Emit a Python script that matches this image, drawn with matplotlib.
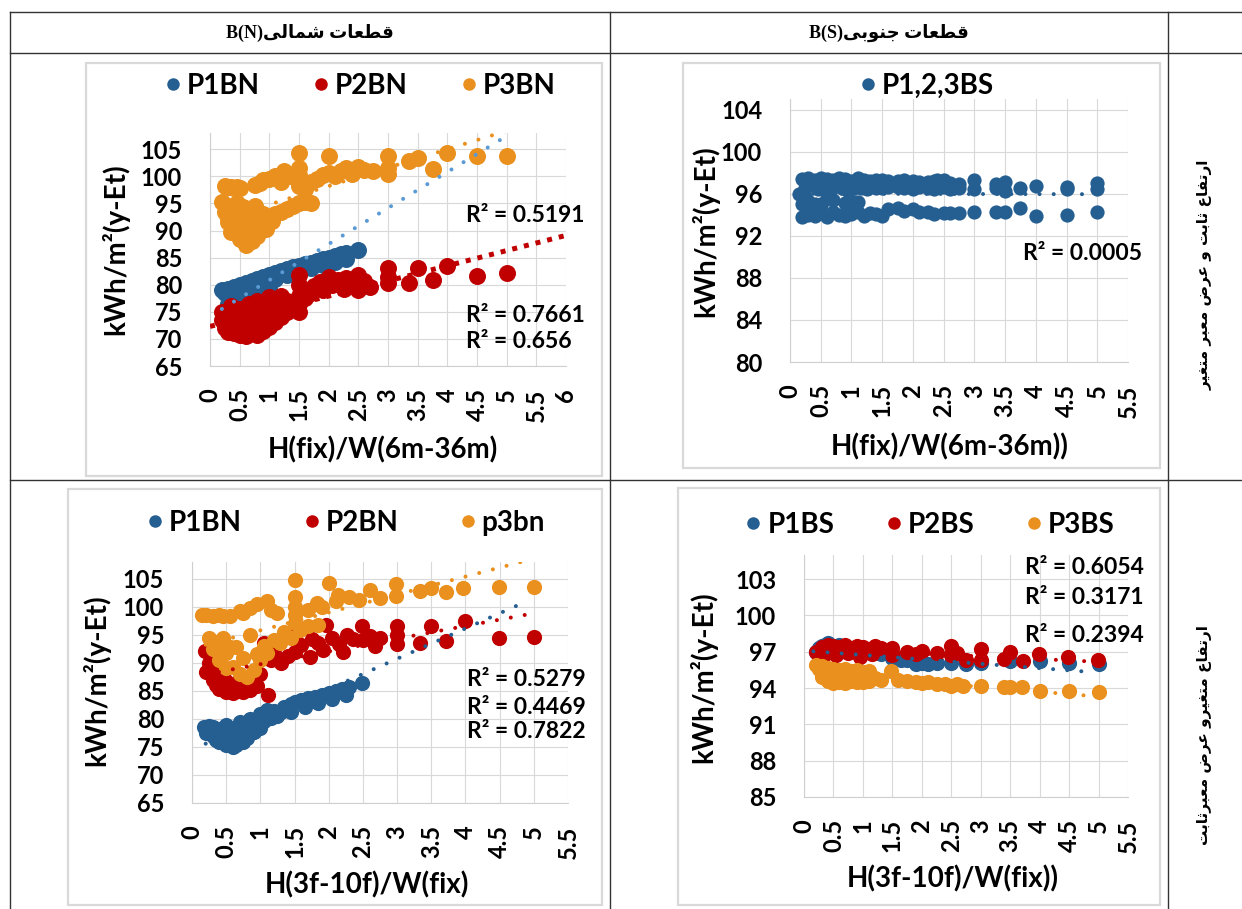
import numpy as np
import matplotlib
matplotlib.use('Agg')
import matplotlib.pyplot as plt
from matplotlib.lines import Line2D
from matplotlib.patches import Rectangle

plt.rcParams['font.family'] = ['Lato', 'DejaVu Sans']

BLUE = '#255E91'
RED = '#C00000'
ORANGE = '#E9901E'
GRID = '#D9D9D9'

# --- chart 1: north blocks, fixed height, variable street width ---
n1_p1_x = [0.2, 0.25, 0.3, 0.35, 0.4, 0.45, 0.5, 0.55, 0.6, 0.65, 0.7, 0.75, 0.8, 0.85, 0.9, 0.95, 1.0, 1.1, 1.2, 1.3,
           1.4, 1.5, 1.6, 1.7, 1.8, 1.9, 2.0, 2.1, 2.2, 2.3, 2.5, 0.3, 0.4, 0.5, 0.6, 0.7, 0.8, 0.9, 1.0,
           1.1, 1.3, 1.5, 1.7, 1.9, 2.1, 2.3]
n1_p1_y = [79.0, 78.4, 79.3, 78.6, 79.5, 79.0, 79.9, 79.4, 80.3, 79.8, 80.7, 80.5, 81.1, 81.0, 81.5, 81.4, 81.8, 82.2, 82.6, 82.9,
           83.2, 83.5, 83.8, 84.1, 84.4, 84.7, 85.0, 85.3, 85.6, 85.9, 86.4, 76.5, 75.8, 76.8, 77.2, 77.8, 78.0, 78.8, 79.5,
           81.0, 81.8, 82.4, 83.0, 83.6, 84.2, 84.8]
n1_p2_x = [0.2, 0.2, 0.25, 0.3, 0.3, 0.35, 0.4, 0.4, 0.45, 0.5, 0.5, 0.5, 0.55, 0.6, 0.6, 0.65, 0.7, 0.7, 0.75, 0.8,
           0.8, 0.8, 0.85, 0.9, 0.9, 0.95, 1.0, 1.0, 1.0, 1.05, 1.1, 1.1, 1.15, 1.2, 1.2, 1.25, 1.3, 1.3,
           1.5, 1.5, 1.5, 1.5, 1.5, 1.6, 1.7, 1.75, 1.85, 1.9, 2.0, 2.05, 2.15, 2.25, 2.3, 2.4, 2.5, 2.5, 2.6, 2.7,
           3.0, 3.0, 3.0, 3.35, 3.5, 3.75, 4.0, 4.5, 5.0]
n1_p2_y = [75.0, 73.5, 72.0, 71.3, 74.5, 76.0, 72.5, 71.0, 74.0, 70.8, 73.0, 75.5, 72.0, 70.6, 74.0, 76.5, 71.2, 73.0, 75.0, 70.7,
           72.5, 77.0, 74.0, 71.5, 76.0, 73.0, 72.2, 75.0, 77.8, 74.0, 73.2, 76.5, 75.0, 74.0, 78.0, 76.0, 77.0, 75.0,
           81.8, 80.0, 78.0, 76.5, 75.0, 77.5, 78.5, 79.8, 80.5, 79.0, 81.5, 80.0, 80.8, 79.3, 81.2, 80.2, 81.8, 79.0, 80.7, 79.5,
           83.0, 81.5, 80.3, 80.4, 83.1, 80.9, 83.4, 81.6, 82.1]
n1_p3_x = [0.25, 0.3, 0.35, 0.4, 0.45, 0.5, 0.75, 0.85, 0.9, 1.0, 1.1, 1.2, 1.25, 1.35, 1.5, 1.5, 1.5, 1.5, 1.5, 1.6,
           1.7, 1.8, 1.9, 2.0, 2.0, 2.1, 2.2, 2.3, 2.4, 2.5, 2.6, 2.75, 3.0, 3.0, 3.0, 3.35, 3.5, 3.75, 4.0, 4.5, 5.0,
           0.2, 0.25, 0.3, 0.3, 0.35, 0.4, 0.45, 0.5, 0.5, 0.55, 0.6, 0.6, 0.65, 0.7, 0.75, 0.8, 0.85, 0.9, 0.95, 1.0,
           1.05, 1.1, 1.2, 1.3, 1.4, 1.5, 1.6, 1.7]
n1_p3_y = [98.2, 98.0, 98.1, 97.9, 98.0, 97.9, 98.4, 98.8, 99.3, 99.6, 100.0, 99.0, 101.0, 100.0, 104.3, 101.5, 100.3, 99.2, 98.2, 97.7,
           99.0, 99.6, 100.2, 103.8, 100.6, 100.0, 101.0, 101.5, 100.4, 101.8, 101.2, 101.0, 103.8, 101.5, 100.4, 102.9, 103.4, 101.3, 104.3, 103.8, 103.7,
           95.2, 93.5, 91.5, 94.5, 89.8, 93.0, 95.0, 88.5, 91.5, 94.3, 87.3, 90.5, 92.5, 88.0, 94.5, 89.0, 91.5, 93.0, 90.2, 92.5,
           91.8, 93.0, 93.5, 94.0, 94.5, 95.0, 95.3, 95.0]
n1_r2 = ['R² = 0.5191', 'R² = 0.7661', 'R² = 0.656']
# trend: x start, x end, slope, intercept
n1_trend = [(0.2, 5.0, 6.65, 74.2), (0.0, 6.0, 2.8, 72.3), (0.2, 5.0, 3.4, 91.4)]

# --- chart 2: south blocks, fixed height ---
s1_x = [0.2, 0.3, 0.4, 0.5, 0.6, 0.7, 0.8, 0.9, 1.0, 1.1, 1.2, 1.3, 1.4, 1.5, 1.6, 1.75, 1.85, 2.0, 2.1, 2.25, 2.35,
        2.4, 2.5, 2.6, 2.75, 3.0, 3.35, 3.5, 3.75, 4.0, 4.5, 5.0,
        0.15, 0.25, 0.35, 0.45, 0.55, 0.65, 0.75, 0.85, 0.95, 1.05, 1.15, 1.25, 1.4, 1.5, 1.6, 1.75, 1.85, 2.0,
        2.1, 2.25, 2.35, 2.5, 2.6, 2.75, 3.0, 3.35, 3.5, 4.5, 5.0,
        0.2, 0.3, 0.4, 0.5, 0.6, 0.7, 0.8, 0.9, 1.0, 1.1, 1.2, 1.3, 1.4, 1.5, 1.6, 1.75, 1.85, 2.0, 2.1, 2.25,
        2.35, 2.5, 2.6, 2.75, 3.0, 3.35, 3.5, 3.75, 4.0, 4.5, 5.0,
        0.3, 0.5, 0.7, 0.9, 1.1, 0.25, 0.6, 1.0, 0.2, 0.3, 0.4, 0.5]
s1_y = [97.4, 97.5, 97.3, 97.5, 97.4, 97.3, 97.5, 97.4, 97.2, 97.5, 97.3, 97.2, 97.3, 97.3, 97.2, 97.2, 97.3, 97.2, 97.1, 97.1, 97.2,
        97.3, 97.3, 97.0, 96.9, 97.3, 96.9, 97.1, 96.5, 96.7, 96.6, 97.0,
        96.0, 96.5, 96.8, 96.4, 96.6, 96.3, 96.7, 96.5, 96.3, 96.6, 96.5, 96.4, 96.5, 96.5, 96.6, 96.6, 96.5, 96.4,
        96.6, 96.5, 96.4, 96.6, 96.4, 96.5, 96.4, 96.5, 96.3, 96.4, 96.4,
        93.8, 94.0, 93.9, 94.2, 93.8, 94.3, 94.0, 93.9, 94.1, 94.3, 93.9, 94.2, 94.1, 93.9, 94.5, 94.6, 94.4, 94.5, 94.3, 94.3,
        94.1, 94.2, 94.2, 94.2, 94.3, 94.3, 94.3, 94.6, 93.9, 94.0, 94.3,
        95.3, 95.0, 95.4, 95.1, 95.2, 95.8, 95.6, 95.3, 95.0, 94.8, 95.0, 94.9]
s1_r2 = ['R² = 0.0005']
s1_trend = [(0.15, 5.0, -0.01, 96.0)]

# --- chart 3: north blocks, variable height, fixed width ---
n2_p1_x = [0.17, 0.2, 0.25, 0.3, 0.3, 0.35, 0.4, 0.4, 0.45, 0.5, 0.5, 0.55, 0.6, 0.6, 0.65, 0.7, 0.7, 0.75, 0.8, 0.8,
           0.85, 0.9, 0.95, 1.0, 1.0, 1.05, 1.1, 1.15, 1.2, 1.3, 1.35, 1.45, 1.5, 1.6, 1.7, 1.8, 1.9, 2.0, 2.1, 2.2,
           2.3, 2.48, 1.25, 1.45, 1.65, 1.85, 2.05, 2.25]
n2_p1_y = [78.5, 77.5, 78.8, 77.0, 78.6, 76.2, 78.2, 75.8, 77.3, 75.3, 79.0, 76.6, 75.0, 78.0, 75.4, 77.0, 79.5, 75.8, 78.4, 76.6,
           80.0, 77.6, 79.0, 80.8, 78.4, 79.6, 81.6, 80.2, 81.5, 81.2, 82.2, 82.6, 83.0, 83.3, 83.7, 84.0, 84.3, 84.7, 85.0, 85.3,
           85.7, 86.4, 80.5, 81.3, 82.2, 82.9, 83.6, 84.3]
n2_p2_x = [0.19, 0.21, 0.25, 0.3, 0.3, 0.35, 0.4, 0.4, 0.45, 0.5, 0.5, 0.55, 0.6, 0.65, 0.7, 0.75, 0.8, 0.85, 0.9, 0.95,
           1.0, 1.05, 1.11, 1.15, 1.2, 1.3, 1.4, 1.5, 1.5, 1.5, 1.6, 1.72, 1.75, 1.85, 1.92, 1.96, 2.05, 2.15, 2.21, 2.26,
           2.35, 2.48, 2.5, 2.6, 2.67, 2.75, 3.0, 3.0, 3.0, 3.33, 3.5, 3.72, 3.99, 4.49, 5.0]
n2_p2_y = [92.2, 88.3, 90.0, 87.0, 89.2, 86.0, 88.5, 85.3, 87.5, 84.8, 86.8, 85.6, 84.6, 86.5, 85.0, 84.8, 86.2, 85.2, 87.0, 85.8,
           88.0, 93.5, 84.3, 90.5, 91.8, 90.0, 91.3, 92.0, 94.5, 96.3, 93.2, 91.1, 94.3, 93.5, 92.3, 96.8, 94.5, 93.4, 92.0, 95.0,
           94.2, 96.6, 94.0, 94.8, 93.1, 94.4, 96.5, 94.9, 93.3, 93.6, 96.6, 93.9, 97.4, 94.4, 94.7]
n2_p3_x = [0.15, 0.2, 0.3, 0.4, 0.45, 0.55, 0.7, 0.75, 0.85, 0.95, 1.09, 1.15, 1.24, 1.5, 1.5, 1.5, 1.5, 1.5, 1.7, 1.83,
           1.9, 2.0, 2.1, 2.13, 2.3, 2.45, 2.6, 2.75, 2.99, 2.99, 3.33, 3.5, 3.72, 3.96, 4.49, 5.0,
           0.25, 0.3, 0.35, 0.4, 0.45, 0.5, 0.5, 0.55, 0.6, 0.65, 0.7, 0.75, 0.8, 0.85, 0.9, 0.95, 1.0, 1.05, 1.1, 1.2,
           1.28, 1.35, 1.45, 1.58, 1.7, 1.85]
n2_p3_y = [98.6, 98.5, 98.4, 98.5, 98.3, 98.3, 99.2, 98.9, 99.8, 100.5, 101.0, 99.5, 98.9, 104.8, 101.8, 100.0, 98.5, 97.1, 99.5, 100.6,
           100.0, 104.2, 101.0, 102.1, 101.8, 101.3, 103.0, 101.5, 104.0, 101.9, 102.9, 103.3, 102.7, 103.4, 103.6, 103.6,
           94.4, 92.5, 93.8, 90.5, 94.4, 91.7, 89.0, 92.8, 89.3, 92.9, 88.0, 90.8, 87.5, 95.0, 88.8, 91.5, 90.5, 93.0, 91.7, 94.0,
           93.5, 95.5, 94.5, 95.9, 96.5, 96.8]
n2_r2 = ['R² = 0.5279', 'R² = 0.4469', 'R² = 0.7822']
n2_trend = [(0.2, 4.9, 5.41, 74.5), (0.19, 4.9, 2.27, 87.5), (0.2, 4.9, 3.2, 92.6)]

# --- chart 4: south blocks, variable height, fixed width ---
s2_p1_x = [0.2, 0.25, 0.3, 0.35, 0.4, 0.5, 0.6, 0.7, 0.8, 0.9, 1.0, 1.1, 1.2, 1.3, 1.5, 1.65, 1.75, 1.9, 2.0, 2.1,
           2.25, 2.5, 2.75, 3.0, 3.5, 4.0, 4.5, 5.0]
s2_p1_y = [97.0, 97.3, 97.5, 97.6, 97.7, 97.5, 97.6, 97.4, 97.3, 97.2, 97.1, 97.0, 96.9, 96.8, 96.5, 96.3, 96.3, 96.0, 96.1, 96.0,
           96.1, 96.1, 96.0, 96.1, 96.2, 96.2, 96.1, 96.0]
s2_p2_x = [0.2, 0.3, 0.4, 0.5, 0.6, 0.7, 0.8, 0.9, 1.0, 1.1, 1.2, 1.3, 0.35, 0.55, 0.75, 0.95, 1.15, 1.5, 1.5, 1.75,
           1.9, 2.0, 2.25, 2.5, 2.5, 2.6, 2.75, 3.0, 3.0, 3.4, 3.5, 3.72, 3.99, 4.48, 4.99]
s2_p2_y = [97.0, 97.4, 97.6, 97.5, 97.4, 97.6, 97.3, 97.5, 97.4, 97.2, 97.5, 97.3, 96.8, 96.7, 96.9, 96.6, 96.8, 97.3, 96.7, 97.0,
           96.8, 97.1, 96.9, 97.5, 96.7, 96.9, 96.3, 97.2, 96.3, 96.4, 97.0, 96.2, 96.8, 96.6, 96.3]
s2_p3_x = [0.2, 0.25, 0.3, 0.35, 0.4, 0.45, 0.5, 0.55, 0.6, 0.7, 0.8, 0.9, 1.0, 1.1, 0.3, 0.4, 0.5, 0.6, 0.7, 0.8,
           0.9, 1.0, 1.1, 1.2, 1.3, 1.47, 1.6, 1.75, 1.9, 2.0, 2.1, 2.25, 2.4, 2.5, 2.6, 2.7, 3.0, 3.4, 3.5, 3.7,
           4.0, 4.5, 5.0]
s2_p3_y = [95.9, 95.6, 95.8, 95.3, 95.7, 95.2, 95.6, 95.0, 95.5, 95.6, 95.4, 95.5, 95.3, 95.4, 94.9, 94.6, 94.4, 94.5, 94.4, 94.6,
           94.5, 94.5, 94.6, 94.8, 94.7, 95.4, 94.7, 94.6, 94.5, 94.4, 94.5, 94.3, 94.3, 94.2, 94.3, 94.2, 94.2, 94.1, 94.1, 94.1,
           93.8, 93.8, 93.7]
s2_r2 = ['R² = 0.6054', 'R² = 0.3171', 'R² = 0.2394']
s2_trend = [(0.16, 4.9, -0.363, 97.1), (0.2, 4.9, -0.225, 97.3), (0.2, 4.9, -0.4, 95.3)]

# table headings (Persian)
head_n = 'قطعات شمالی'
head_s = 'قطعات جنوبی'
row1 = 'ارتفاع ثابت و عرض معبر متغیر'
row2 = 'ارتفاع متغیرو عرض معبرثابت'

# arabic presentation forms: isolated, final, initial, medial
FORMS = {
    'ا': (0xFE8D, 0xFE8E, None, None),
    'ب': (0xFE8F, 0xFE90, 0xFE91, 0xFE92),
    'ت': (0xFE95, 0xFE96, 0xFE97, 0xFE98),
    'ث': (0xFE99, 0xFE9A, 0xFE9B, 0xFE9C),
    'ج': (0xFE9D, 0xFE9E, 0xFE9F, 0xFEA0),
    'ر': (0xFEAD, 0xFEAE, None, None),
    'ش': (0xFEB5, 0xFEB6, 0xFEB7, 0xFEB8),
    'ض': (0xFEBD, 0xFEBE, 0xFEBF, 0xFEC0),
    'ط': (0xFEC1, 0xFEC2, 0xFEC3, 0xFEC4),
    'ع': (0xFEC9, 0xFECA, 0xFECB, 0xFECC),
    'غ': (0xFECD, 0xFECE, 0xFECF, 0xFED0),
    'ف': (0xFED1, 0xFED2, 0xFED3, 0xFED4),
    'ق': (0xFED5, 0xFED6, 0xFED7, 0xFED8),
    'ل': (0xFEDD, 0xFEDE, 0xFEDF, 0xFEE0),
    'م': (0xFEE1, 0xFEE2, 0xFEE3, 0xFEE4),
    'ن': (0xFEE5, 0xFEE6, 0xFEE7, 0xFEE8),
    'و': (0xFEED, 0xFEEE, None, None),
    'ی': (0xFEEF, 0xFEF0, 0xFEF3, 0xFEF4),
}


def shape_fa(s):
    # join letters and flip to visual order (no bidi lib here)
    out = []
    for i, c in enumerate(s):
        if c not in FORMS:
            out.append(c)
            continue
        f = FORMS[c]
        prev = s[i - 1] if i > 0 else ''
        nxt = s[i + 1] if i + 1 < len(s) else ''
        jp = prev in FORMS and FORMS[prev][2] is not None
        jn = f[2] is not None and nxt in FORMS
        if jp and jn:
            g = f[3]
        elif jp:
            g = f[1]
        elif jn:
            g = f[2]
        else:
            g = f[0]
        out.append(chr(g))
    return ''.join(reversed(out))


W, H = 1242, 909
fig = plt.figure(figsize=(W / 100, H / 100), dpi=100)


def fx(px):
    return px / W


def fy(py):
    return 1 - py / H


# table grid drawn in pixel space
bg = fig.add_axes([0, 0, 1, 1])
bg.set_xlim(0, W)
bg.set_ylim(H, 0)
bg.axis('off')
for y in (12, 53, 480):
    bg.plot([10, W], [y, y], color='#333333', lw=1.0)
for x in (10, 610, 1168):
    bg.plot([x, x], [12, H], color='#333333', lw=1.0)
for l, t, r, b in [(86, 63, 602, 476), (683, 63, 1160, 468), (68, 489, 602, 905), (678, 488, 1160, 905)]:
    bg.add_patch(Rectangle((l, t), r - l, b - t, fill=False, ec='#D9D9D9', lw=1.6))

bg.text(310, 33, 'B(N)' + shape_fa(head_n), ha='center', va='center', fontsize=13, fontweight='bold',
        family=['Liberation Serif', 'DejaVu Sans'])
bg.text(889, 33, 'B(S)' + shape_fa(head_s), ha='center', va='center', fontsize=13, fontweight='bold',
        family=['Liberation Serif', 'DejaVu Sans'])
bg.text(1205, 275, shape_fa(row1), ha='center', va='center', rotation=90, fontsize=11, fontweight='bold',
        family=['DejaVu Sans'])
bg.text(1205, 735, shape_fa(row2), ha='center', va='center', rotation=90, fontsize=11, fontweight='bold',
        family=['DejaVu Sans'])


def chart(box, xmax, ylim, yticks, xlabel, ylab_pos, xlab_pos):
    l, t, r, b = box
    ax = fig.add_axes([fx(l), fy(b), (r - l) / W, (b - t) / H])
    ax.set_xlim(0, xmax)
    ax.set_ylim(*ylim)
    xt = np.arange(0, xmax + 0.01, 0.5)
    ax.set_xticks(xt)
    ax.set_xticklabels([f'{v:g}' for v in xt], rotation=90)
    ax.set_yticks(yticks)
    ax.tick_params(length=0, labelsize=17)
    ax.tick_params(axis='y', pad=20)
    ax.tick_params(axis='x', pad=16)
    for lab in ax.get_xticklabels() + ax.get_yticklabels():
        lab.set_fontweight('bold')
    ax.grid(True, color=GRID, lw=0.8)
    ax.set_axisbelow(True)
    for s in ('top', 'right'):
        ax.spines[s].set_visible(False)
    for s in ('left', 'bottom'):
        ax.spines[s].set_color('#CFCFCF')
    ax.set_ylabel('kWh/m²(y-Et)', fontsize=20, fontweight='bold')
    ax.yaxis.set_label_coords(fx(ylab_pos[0]), fy(ylab_pos[1]), transform=fig.transFigure)
    ax.set_xlabel(xlabel, fontsize=20, fontweight='bold')
    ax.xaxis.set_label_coords(fx(xlab_pos[0]), fy(xlab_pos[1]), transform=fig.transFigure)
    return ax


def trend(ax, tr, color, square=False):
    x0, x1, k, c = tr
    xs = np.array([x0, x1])
    if square:
        ax.plot(xs, c + k * xs, color=color, lw=3.6, ls=(0, (1.0, 1.4)), dash_capstyle='butt', zorder=5)
    else:
        ax.plot(xs, c + k * xs, color=color, lw=2.9, ls=(0, (0.01, 3.5)), dash_capstyle='round', zorder=5)


def legend(ax, labels, colors, center, spacing):
    hs = [Line2D([], [], ls='', marker='o', ms=9, color=c, mew=0) for c in colors]
    ax.legend(hs, labels, loc='center', bbox_to_anchor=(fx(center[0]), fy(center[1])),
              bbox_transform=fig.transFigure, ncol=len(labels), frameon=False,
              prop={'size': 20, 'weight': 'bold'}, handlelength=0.6, handletextpad=0.2,
              columnspacing=spacing, borderpad=0, borderaxespad=0)


def r2_labels(texts, left, ys):
    for txt, y in zip(texts, ys):
        fig.text(fx(left), fy(y), txt, fontsize=16.5, fontweight='bold', ha='left', va='center')


# chart 1
ax1 = chart((210, 133, 566, 366), 6, (65, 108), np.arange(65, 106, 5), 'H(fix)/W(6m-36m)', (129, 249), (383, 436))
ax1.scatter(n1_p1_x, n1_p1_y, s=150, c=BLUE, linewidths=0, zorder=3)
ax1.scatter(n1_p2_x, n1_p2_y, s=150, c=RED, linewidths=0, zorder=3)
ax1.scatter(n1_p3_x, n1_p3_y, s=150, c=ORANGE, linewidths=0, zorder=3)
trend(ax1, n1_trend[0], '#5B9BD5')
trend(ax1, n1_trend[1], RED, square=True)
trend(ax1, n1_trend[2], ORANGE)
legend(ax1, ['P1BN', 'P2BN', 'P3BN'], [BLUE, RED, ORANGE], (360, 86), 1.9)
r2_labels(n1_r2, 466, [215, 315, 342])

# chart 2
ax2 = chart((790, 99, 1128, 362), 5.5, (80, 105), np.arange(80, 105, 4), 'H(fix)/W(6m-36m))', (719, 231), (950, 433))
ax2.scatter(s1_x, s1_y, s=105, c=BLUE, linewidths=0, zorder=3)
trend(ax2, s1_trend[0], BLUE)
legend(ax2, ['P1,2,3BS'], [BLUE], (927, 86), 1.9)
r2_labels(s1_r2, 1023, [253])

# chart 3
ax3 = chart((192, 562, 568, 803), 5.5, (65, 108), np.arange(65, 106, 5), 'H(3f-10f)/W(fix)', (110, 680), (367, 871))
ax3.scatter(n2_p1_x, n2_p1_y, s=120, c=BLUE, linewidths=0, zorder=3)
ax3.scatter(n2_p2_x, n2_p2_y, s=120, c=RED, linewidths=0, zorder=3)
ax3.scatter(n2_p3_x, n2_p3_y, s=120, c=ORANGE, linewidths=0, zorder=3)
trend(ax3, n2_trend[0], BLUE)
trend(ax3, n2_trend[1], RED)
trend(ax3, n2_trend[2], ORANGE)
legend(ax3, ['P1BN', 'P2BN', 'p3bn'], [BLUE, RED, ORANGE], (346, 523), 2.2)
r2_labels(n2_r2, 467, [680, 707, 732])

# chart 4
ax4 = chart((804, 555, 1128, 797), 5.5, (85, 105), np.arange(85, 104, 3), 'H(3f-10f)/W(fix))', (717, 677), (953, 865))
ax4.scatter(s2_p1_x, s2_p1_y, s=120, c=BLUE, linewidths=0, zorder=3)
ax4.scatter(s2_p2_x, s2_p2_y, s=120, c=RED, linewidths=0, zorder=3)
ax4.scatter(s2_p3_x, s2_p3_y, s=120, c=ORANGE, linewidths=0, zorder=3)
trend(ax4, s2_trend[0], BLUE)
trend(ax4, s2_trend[1], RED)
trend(ax4, s2_trend[2], ORANGE)
legend(ax4, ['P1BS', 'P2BS', 'P3BS'], [BLUE, RED, ORANGE], (930, 525), 1.85)
r2_labels(s2_r2, 1025, [567, 598, 635])

fig.savefig('out.png', dpi=100)
